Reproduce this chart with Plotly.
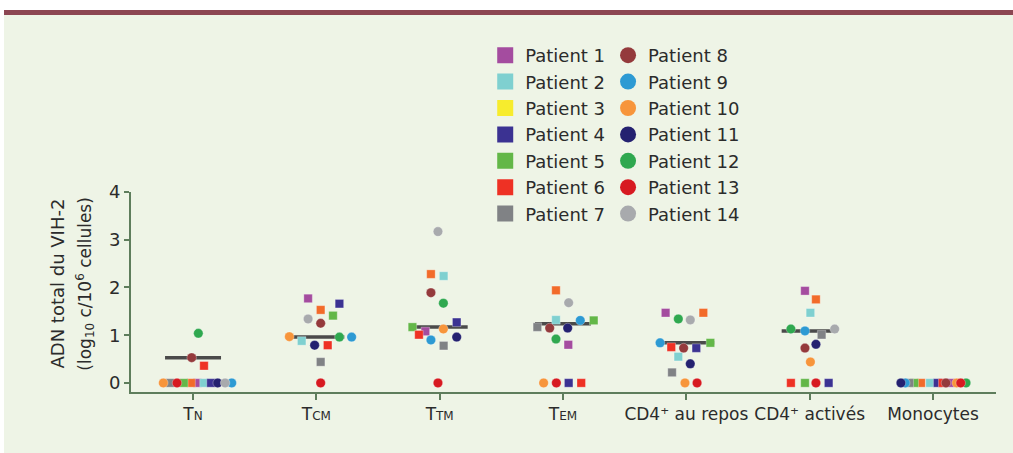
import plotly.graph_objects as go

# ---------------- data ----------------
categories = ["TN", "TCM", "TTM", "TEM", "CD4+ au repos", "CD4+ activés", "Monocytes"]
tick_labels = [
    "T<span style='font-size:12px'>N</span>",
    "T<span style='font-size:12px'>CM</span>",
    "T<span style='font-size:12px'>TM</span>",
    "T<span style='font-size:12px'>EM</span>",
    "CD4⁺ au repos",
    "CD4⁺ activés",
    "Monocytes",
]
y_tick_values = [0, 1, 2, 3, 4]

patient_names = [f"Patient {i}" for i in range(1, 15)]

# log10 HIV-2 DNA copies / 10^6 cells, per category (TN, TCM, TTM, TEM, repos, activés, Monocytes)
patient_1 = [0, 1.77, 1.08, 0.80, 1.47, 1.93, 0]
patient_2 = [0, 0.88, 2.24, 1.32, 0.55, 1.47, 0]
patient_3 = [0, 1.53, 2.28, 1.94, 1.47, 1.75, 0]
patient_4 = [0, 1.66, 1.27, 0, 0.73, 0, 0]
patient_5 = [0, 1.41, 1.17, 1.31, 0.84, 0, 0]
patient_6 = [0.36, 0.79, 1.01, 0, 0.75, 0, 0]
patient_7 = [0, 0.44, 0.78, 1.17, 0.22, 1.01, 0]
patient_8 = [0.53, 1.25, 1.89, 1.15, 0.73, 0.73, 0]
patient_9 = [0, 0.96, 0.90, 1.31, 0.84, 1.09, 0]
patient_10 = [0, 0.97, 1.13, 0, 0, 0.44, 0]
patient_11 = [0, 0.79, 0.96, 1.15, 0.40, 0.81, 0]
patient_12 = [1.04, 0.96, 1.67, 0.92, 1.34, 1.13, 0]
patient_13 = [0, 0, 0, 0, 0, 0, 0]
patient_14 = [0, 1.34, 3.17, 1.68, 1.32, 1.13, None]

median_lines = [0.53, 0.96, 1.17, 1.24, 0.84, 1.09, None]

# horizontal scatter of points within each category (fraction of category spacing)
jitter_1 = [0.035, -0.067, -0.116, 0.043, -0.168, -0.038, 0.144]
jitter_2 = [0.089, -0.119, 0.032, -0.057, -0.065, 0.006, -0.024]
jitter_3 = [-0.016, 0.035, -0.071, -0.057, 0.138, 0.051, -0.097]
jitter_4 = [0.146, 0.187, 0.138, 0.046, 0.081, 0.154, 0.038]
jitter_5 = [-0.075, 0.135, -0.221, 0.249, 0.195, -0.038, -0.152]
jitter_6 = [0.089, 0.092, -0.168, 0.148, -0.122, -0.152, 0.079]
jitter_7 = [-0.187, 0.035, 0.032, -0.208, -0.116, 0.097, -0.192]
jitter_8 = [-0.011, 0.035, -0.071, -0.108, -0.022, -0.038, 0.105]
jitter_9 = [0.314, 0.286, -0.071, 0.140, -0.213, -0.038, -0.225]
jitter_10 = [-0.241, -0.219, 0.030, -0.157, -0.011, 0.006, 0.192]
jitter_11 = [0.200, -0.014, 0.138, 0.038, 0.032, 0.051, -0.260]
jitter_12 = [0.043, 0.187, 0.030, -0.057, -0.065, -0.152, 0.268]
jitter_13 = [-0.130, 0.035, -0.014, -0.054, 0.087, 0.051, 0.225]
jitter_14 = [0.260, -0.067, -0.014, 0.046, 0.032, 0.203, 0.0]

values = [patient_1, patient_2, patient_3, patient_4, patient_5, patient_6, patient_7,
          patient_8, patient_9, patient_10, patient_11, patient_12, patient_13, patient_14]
jitters = [jitter_1, jitter_2, jitter_3, jitter_4, jitter_5, jitter_6, jitter_7,
           jitter_8, jitter_9, jitter_10, jitter_11, jitter_12, jitter_13, jitter_14]

# ---------------- style ----------------
legend_colors = ["#A44C9F", "#7FD0D0", "#F7EC2D", "#3B3292", "#63B748", "#EE3124", "#808285",
                 "#943A3C", "#2D9AD3", "#F7953B", "#242170", "#2FA84F", "#D71A21", "#A8AAAD"]
plot_colors = list(legend_colors)
plot_colors[2] = "#F26B2A"
symbols = ["square"] * 7 + ["circle"] * 7
FONT = "DejaVu Sans, sans-serif"
AXIS_COLOR = "#5E7D5C"
BG = "#EEF4E6"
TEXT = "#2B2B2B"
HALF = 0.227

fig = go.Figure()

# median lines (under the points)
for i, m in enumerate(median_lines):
    if m is None:
        continue
    fig.add_trace(go.Scatter(x=[i - HALF, i + HALF], y=[m, m], mode="lines",
                             line=dict(color="#4A4A4A", width=3.5),
                             showlegend=False, hoverinfo="skip"))

# points
for k in range(14):
    xs, ys = [], []
    for i, v in enumerate(values[k]):
        if v is None:
            continue
        xs.append(i + jitters[k][i])
        ys.append(v)
    fig.add_trace(go.Scatter(
        x=xs, y=ys, mode="markers", name=patient_names[k], showlegend=False,
        marker=dict(symbol=symbols[k], color=plot_colors[k],
                    size=8.5 if symbols[k] == "square" else 9.5,
                    line=dict(width=0.6, color="rgba(255,255,255,0.5)")),
    ))

# legend entries
for k in range(14):
    fig.add_trace(go.Scatter(
        x=[None], y=[None], mode="markers", name=patient_names[k],
        legend="legend" if k < 7 else "legend2",
        marker=dict(symbol=symbols[k], color=legend_colors[k], size=16),
    ))

leg_common = dict(bgcolor="rgba(0,0,0,0)", font=dict(family=FONT, size=18, color=TEXT),
                  itemwidth=30, tracegroupgap=0, yanchor="top", xanchor="left",
                  itemclick=False, itemdoubleclick=False)

fig.update_layout(
    width=1013, height=453,
    margin=dict(l=131, r=17, t=192, b=61, autoexpand=False),
    paper_bgcolor=BG, plot_bgcolor=BG,
    font=dict(family=FONT, color=TEXT),
    legend=dict(x=0.4095, y=1.775, **leg_common),
    legend2=dict(x=0.5515, y=1.775, **leg_common),
    xaxis=dict(range=[-0.503, 6.511], tickmode="array", tickvals=list(range(7)),
               ticktext=tick_labels, showgrid=False, zeroline=False, tickangle=0,
               automargin=False,
               showline=True, linecolor=AXIS_COLOR, linewidth=2,
               ticks="outside", ticklen=6, tickwidth=2, tickcolor=AXIS_COLOR,
               tickfont=dict(family=FONT, size=17, color=TEXT)),
    yaxis=dict(range=[-0.19, 4.0], tickmode="array", tickvals=y_tick_values,
               showgrid=False, zeroline=False, automargin=False,
               showline=True, linecolor=AXIS_COLOR, linewidth=2,
               ticks="outside", ticklen=5, tickwidth=2, tickcolor=AXIS_COLOR,
               tickfont=dict(family=FONT, size=18, color=TEXT)),
    shapes=[
        dict(type="rect", xref="paper", yref="paper", x0=-0.16, x1=1.05, y0=1.91, y1=1.99,
             fillcolor="white", line=dict(width=0), layer="below"),
        dict(type="rect", xref="paper", yref="paper", x0=-0.16, x1=-0.1468, y0=-0.32, y1=1.99,
             fillcolor="white", line=dict(width=0), layer="below"),
        dict(type="rect", xref="paper", yref="paper", x0=-0.1468, x1=1.05, y0=1.885, y1=1.91,
             fillcolor="#8C4652", line=dict(width=0), layer="below"),
    ],
    annotations=[
        dict(text="ADN total du VIH-2", xref="paper", yref="paper", x=-0.0844, y=0.5425,
             xanchor="center", yanchor="middle", textangle=-90, showarrow=False,
             font=dict(family=FONT, size=18, color=TEXT)),
        dict(text="(log<sub>10</sub> c/10<sup>6</sup> cellules)", xref="paper", yref="paper",
             x=-0.053, y=0.5425, xanchor="center", yanchor="middle", textangle=-90,
             showarrow=False, font=dict(family=FONT, size=17, color=TEXT)),
    ],
)

fig.write_html("out.html", config={"displayModeBar": False},
               post_script="document.body.style.margin='0px';")
